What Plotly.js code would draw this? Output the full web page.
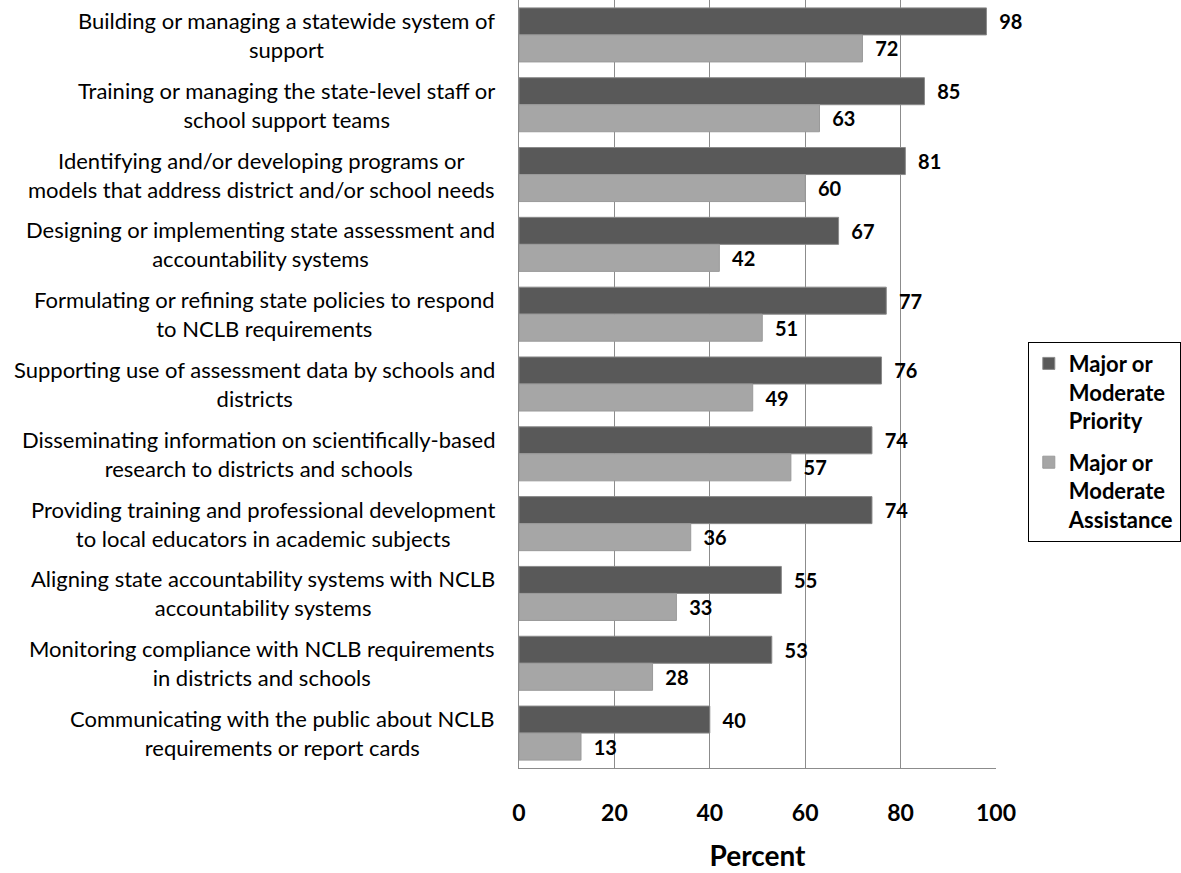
<!DOCTYPE html>
<html>
<head>
<meta charset="utf-8">
<script src="https://cdn.plot.ly/plotly-3.0.1.min.js"></script>
<style>html,body{margin:0;padding:0;background:#fff;}#chart{width:1181px;height:873px;}</style>
</head>
<body>
<div id="chart"></div>
<script>
const categories = [
  "Building or managing a statewide system of<br>support",
  "Training or managing the state-level staff or<br>school support teams",
  "Identifying and/or developing programs or<br>models that address district and/or school needs",
  "Designing or implementing state assessment and<br>accountability systems",
  "Formulating or refining state policies to respond<br>to NCLB requirements",
  "Supporting use of assessment data by schools and<br>districts",
  "Disseminating information on scientifically-based<br>research to districts and schools",
  "Providing training and professional development<br>to local educators in academic subjects",
  "Aligning state accountability systems with NCLB<br>accountability systems",
  "Monitoring compliance with NCLB requirements<br>in districts and schools",
  "Communicating with the public about NCLB<br>requirements or report cards"
];
const priority = [98, 85, 81, 67, 77, 76, 74, 74, 55, 53, 40];
const assistance = [72, 63, 60, 42, 51, 49, 57, 36, 33, 28, 13];
const seriesNames = ["Major or<br>Moderate<br>Priority", "Major or<br>Moderate<br>Assistance"];
const xTicks = [0, 20, 40, 60, 80, 100];

const FAMILY = "Lato, 'Open Sans', sans-serif";
const ids = categories.map((c, i) => "c" + i);
const labelFont = {family: FAMILY, size: 22, color: "#000"};
const numFont = {family: FAMILY, size: 20, color: "#000", weight: "bold"};

const plotLeft = 519, plotWidth = 480;

const annotations = categories.map((c, i) => ({
  xref: "paper", yref: "y", x: (497 - plotLeft) / plotWidth, y: ids[i],
  xanchor: "right", yanchor: "middle", align: "center",
  text: c, showarrow: false, font: labelFont
}));

const traces = [
  {type: "bar", orientation: "h", name: seriesNames[0], legendgroup: "a", y: ids, x: priority,
   marker: {color: "#595959", line: {color: "#8a8a8a", width: 1}},
   text: priority.map(String), texttemplate: "\u00a0\u00a0%{text}", textposition: "outside",
   textfont: numFont, cliponaxis: false, hoverinfo: "x"},
  {type: "bar", orientation: "h", name: seriesNames[1], legendgroup: "b", y: ids, x: assistance,
   marker: {color: "#a6a6a6", line: {color: "#9a9a9a", width: 1}},
   text: assistance.map(String), texttemplate: "\u00a0\u00a0%{text}", textposition: "outside",
   textfont: numFont, cliponaxis: false, hoverinfo: "x"}
];

const layout = {
  width: 1181, height: 873,
  margin: {l: 519, r: 182, t: 0, b: 105},
  paper_bgcolor: "#fff", plot_bgcolor: "#fff",
  barmode: "group", bargap: 0.226, bargroupgap: 0,
  showlegend: true,
  legend: {x: (1031 - plotLeft) / plotWidth, xanchor: "left", y: 0.425, yanchor: "middle",
    bordercolor: "#000", borderwidth: 1, bgcolor: "#fff",
    font: {family: FAMILY, size: 22, color: "#000", weight: "bold"},
    tracegroupgap: 10, traceorder: "grouped", itemwidth: 30, valign: "top"},
  xaxis: {range: [0, 100], tickvals: xTicks, ticktext: xTicks.map(String),
    showgrid: true, gridcolor: "#8c8c8c", gridwidth: 1, zeroline: false,
    showline: true, linecolor: "#8c8c8c", linewidth: 1, mirror: false,
    ticks: "", ticklabelstandoff: 24,
    tickfont: {family: FAMILY, size: 23, color: "#000", weight: "bold"},
    title: {text: "Percent", standoff: 21,
      font: {family: FAMILY, size: 28, color: "#000", weight: "bold"}},
    fixedrange: true},
  yaxis: {type: "category", autorange: "reversed", showticklabels: false,
    showgrid: false, zeroline: false, showline: true, linecolor: "#8c8c8c", linewidth: 1,
    ticks: "", fixedrange: true},
  annotations: annotations
};

Plotly.newPlot("chart", traces, layout, {displayModeBar: false, staticPlot: true});
</script>
</body>
</html>
